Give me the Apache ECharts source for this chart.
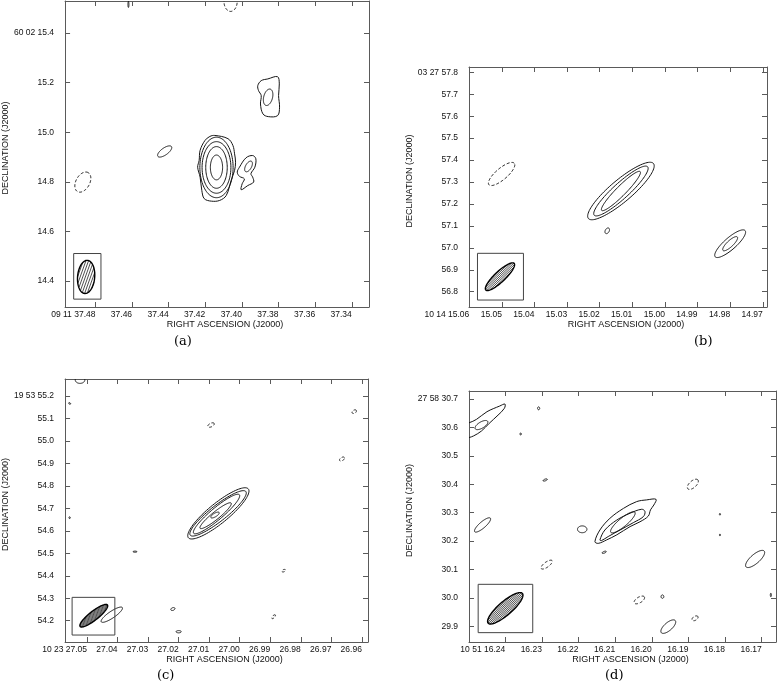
<!DOCTYPE html>
<html><head><meta charset="utf-8">
<script src="https://cdn.jsdelivr.net/npm/echarts@6/dist/echarts.min.js"></script>
<style>html,body{margin:0;padding:0;background:#fff}#c{width:777px;height:691px}</style>
</head><body><div id="c"></div>
<script>
// ================= DATA =================
// Panel (a)  RA 09h11m, Dec +60 02'
const raTicksA = [37.48, 37.46, 37.44, 37.42, 37.40, 37.38, 37.36, 37.34];
const raLabelsA = ['09 11 37.48', '37.46', '37.44', '37.42', '37.40', '37.38', '37.36', '37.34'];
const decTicksA = [14.4, 14.6, 14.8, 15.0, 15.2, 15.4];
const decLabelsA = ['14.4', '14.6', '14.8', '15.0', '15.2', '60 02 15.4'];
const raRangeA = [37.3306, 37.4966];
const decRangeA = [14.2952, 15.529];
const decDegA = 60.04;
// ellipses: [RA s, Dec arcsec, semi-major mas, semi-minor mas, PA deg, dashed]
const ellipsesA = [
  [37.4139, 14.8579, 50, 25, 0, 0],
  [37.4139, 14.8579, 84, 44, 0, 0],
  [37.4139, 14.8579, 104, 59, 0, 0],
  [37.4139, 14.8579, 122, 68, 0, 0],
  [37.3964, 14.8619, 24, 12, -30, 0],
  [37.3857, 15.1408, 34, 18, -15, 0],
  [37.4422, 14.9223, 34, 14, -55, 0],
  [37.4869, 14.7988, 44, 28, -30, 1],
  [37.4062, 15.527, 40, 27, 0, 1],
  [37.4620, 15.515, 12, 2, 0, 0]
];
// polygon contours: offsets [East mas, North mas] from a centre
const mainOuterA = [[7,129],[-47,116],[-67,89],[-74,55],[-78,21],[-74,-12],[-60,-52],[-40,-113],[-13,-133],[20,-136],[50,-126],[60,-93],[67,-39],[77,1],[71,28],[67,69],[47,109],[27,125]];
const hookA = [[-94,1],[-121,39],[-148,48],[-161,35],[-157,1],[-141,-25],[-148,-39],[-152,-59],[-128,-73],[-101,-90],[-105,-66],[-114,-46],[-94,-36],[-85,-19]];
const knotOuterA = [[46,47],[32,67],[5,74],[-35,83],[-42,54],[-39,7],[-43,-40],[-35,-74],[3,-78],[25,-67],[35,-27],[32,7],[43,27]];
const polyCentresA = [[37.4139, 14.8579, 0], [37.4139, 14.8579, 0], [37.3852, 15.1408, 0]];
const polyShapesA = [mainOuterA, hookA, knotOuterA];
// beam: [RA, Dec, a, b, PA, hatch spacing mas, hatch PA]
const beamA = [[37.4851, 14.4165, 67, 35, -5, 10, -20]];
const beamBoxA = [[37.4919, 14.3269, 37.4770, 14.5108]];

// Panel (b)  RA 10h14m, Dec +03 27'
const raTicksB = [15.06, 15.05, 15.04, 15.03, 15.02, 15.01, 15.00, 14.99, 14.98, 14.97];
const raLabelsB = ['10 14 15.06', '15.05', '15.04', '15.03', '15.02', '15.01', '15.00', '14.99', '14.98', '14.97'];
const decTicksB = [56.8, 56.9, 57.0, 57.1, 57.2, 57.3, 57.4, 57.5, 57.6, 57.7, 57.8];
const decLabelsB = ['56.8', '56.9', '57.0', '57.1', '57.2', '57.3', '57.4', '57.5', '57.6', '57.7', '03 27 57.8'];
const raRangeB = [14.9687, 15.0601];
const decRangeB = [56.7303, 57.8242];
const decDegB = 3.466;
const ellipsesB = [
  [15.0135, 57.259, 125, 22, -45, 0],
  [15.0135, 57.259, 165, 36, -48, 0],
  [15.0135, 57.259, 195, 50, -50, 0],
  [15.0177, 57.0777, 14, 9, -30, 0],
  [14.9800, 57.0188, 91, 27, -49, 0],
  [14.9800, 57.0188, 45, 14, -47, 0],
  [15.0501, 57.3365, 76, 26, -50, 1]
];
const beamB = [[15.0506, 56.8684, 89, 24, -47, 7, -47]];
const beamBoxB = [[15.0575, 56.762, 15.0434, 56.975]];

// Panel (c)  RA 10h23m, Dec +19 53'
const raTicksC = [27.05, 27.04, 27.03, 27.02, 27.01, 27.00, 26.99, 26.98, 26.97, 26.96];
const raLabelsC = ['10 23 27.05', '27.04', '27.03', '27.02', '27.01', '27.00', '26.99', '26.98', '26.97', '26.96'];
const decTicksC = [54.2, 54.3, 54.4, 54.5, 54.6, 54.7, 54.8, 54.9, 55.0, 55.1, 55.2];
const decLabelsC = ['54.2', '54.3', '54.4', '54.5', '54.6', '54.7', '54.8', '54.9', '55.0', '55.1', '19 53 55.2'];
const raRangeC = [26.958, 27.0572];
const decRangeC = [54.1052, 55.2757];
const decDegC = 19.899;
const ellipsesC = [
  [27.0070, 54.6777, 176, 45, -52, 0],
  [27.0071, 54.6777, 161, 36, -53, 0],
  [27.0076, 54.6748, 136, 27, -51, 0],
  [27.0079, 54.6674, 91, 17, -52, 0],
  [27.0081, 54.6703, 22, 8, -60, 0],
  [27.0523, 55.2712, 22, 15, 90, 0],
  [27.0557, 55.167, 5, 3, 60, 0],
  [27.0557, 54.6585, 4, 3, 0, 0],
  [27.0343, 54.5071, 9, 2.5, 90, 0],
  [27.0094, 55.0709, 16, 8, -65, 1],
  [26.9625, 55.1303, 11, 7, -60, 1],
  [26.9665, 54.9196, 13, 7, -60, 1],
  [26.9856, 54.4226, 9, 5, -70, 1],
  [26.9889, 54.2178, 11, 5, -45, 1],
  [27.0219, 54.2519, 10, 6, -70, 0],
  [27.0200, 54.151, 12, 5, 90, 0],
  [27.0419, 54.2267, 58, 15, -57, 0]
];
const beamC = [[27.0478, 54.2222, 79, 20, -53, 4, -53]];
const beamBoxC = [[27.0549, 54.1362, 27.0409, 54.3039]];

// Panel (d)  RA 10h51m, Dec +27 58'
const raTicksD = [16.24, 16.23, 16.22, 16.21, 16.20, 16.19, 16.18, 16.17];
const raLabelsD = ['10 51 16.24', '16.23', '16.22', '16.21', '16.20', '16.19', '16.18', '16.17'];
const decTicksD = [29.9, 30.0, 30.1, 30.2, 30.3, 30.4, 30.5, 30.6, 30.7];
const decLabelsD = ['29.9', '30.0', '30.1', '30.2', '30.3', '30.4', '30.5', '30.6', '27 58 30.7'];
const raRangeD = [16.1661, 16.2499];
const decRangeD = [29.8448, 30.7281];
const decDegD = 27.975;
const ellipsesD = [
  [16.2079, 30.266, 56, 15, -51, 0],
  [16.2465, 30.6082, 26, 11, -60, 0],
  [16.2462, 30.2567, 37, 11, -50, 0],
  [16.2190, 30.2414, 17, 12, 90, 0],
  [16.2287, 30.1171, 24, 9, -55, 1],
  [16.1888, 30.3997, 24, 12, -50, 1],
  [16.2034, 29.9928, 21, 10, -60, 1],
  [16.1882, 29.9282, 12, 7, -60, 1],
  [16.1955, 29.8989, 33, 14, -50, 0],
  [16.1718, 30.137, 43, 16, -50, 0],
  [16.2130, 30.1605, 8, 3, -70, 0],
  [16.2309, 30.6672, 5, 4, 0, 0],
  [16.2358, 30.5768, 3, 3, 0, 0],
  [16.2291, 30.415, 8, 3, -70, 0],
  [16.1814, 30.2942, 3, 2, 0, 0],
  [16.1814, 30.2215, 3, 2, 0, 0],
  [16.1971, 30.0045, 6, 5, 0, 0],
  [16.1675, 30.0103, 6, 2, 0, 0]
];
const mainOuterD = [[105,-74],[87,-33],[51,8],[2,43],[-46,67],[-82,73],[-116,75],[-108,55],[-96,38],[-88,16],[-58,-4],[-22,-21],[26,-50],[63,-68],[93,-80]];
const mainMidD = [[87,-68],[69,-33],[26,2],[-22,26],[-64,40],[-76,32],[-70,14],[-34,-7],[14,-33],[57,-56],[81,-70]];
const ulOuterD = [[72,-6],[57,-4],[30,8],[-8,35],[-54,55],[-73,62],[-71,47],[-48,23],[-16,-6],[12,-33],[40,-50],[57,-56],[72,-59]];
const polyCentresD = [[16.2076, 30.2719, 0], [16.2076, 30.2719, 0], [16.2456, 30.6202, 0]];
const polyShapesD = [mainOuterD, mainMidD, ulOuterD];
const beamD = [[16.2400, 29.9634, 81, 24, -50, 5, -50]];
const beamBoxD = [[16.2474, 29.8777, 16.2325, 30.0478]];

const panelLetters = ['(a)', '(b)', '(c)', '(d)'];

// ================= RENDERING =================
const FONT = '"Liberation Sans", Arial, Helvetica, sans-serif';
const FRAME = '#5a5a5a';
const INK = '#151515';
const D2R = Math.PI / 180;

function toData(ra0, dec0, E, N, cosd) {
  return [ra0 + E / 1000 / (15 * cosd), dec0 + N / 1000];
}
function ellipseRender(cosd) {
  return function (params, api) {
    const ra0 = api.value(0), dec0 = api.value(1), a = api.value(2), b = api.value(3);
    const pa = api.value(4) * D2R, dash = api.value(5);
    const pts = [];
    for (let k = 0; k < 96; k++) {
      const t = 2 * Math.PI * k / 96;
      const u = a * Math.cos(t), v = b * Math.sin(t);
      const E = u * Math.sin(pa) + v * Math.cos(pa);
      const N = u * Math.cos(pa) - v * Math.sin(pa);
      pts.push(api.coord(toData(ra0, dec0, E, N, cosd)));
    }
    return { type: 'polygon', shape: { points: pts },
      style: { fill: 'none', stroke: INK, lineWidth: 1, lineDash: dash ? [3, 2] : null } };
  };
}
function polyRender(cosd, shapes) {
  return function (params, api) {
    const ra0 = api.value(0), dec0 = api.value(1), dash = api.value(2);
    const pts = shapes[params.dataIndex].map(p => api.coord(toData(ra0, dec0, p[0], p[1], cosd)));
    return { type: 'polygon', shape: { points: pts, smooth: 0.35 },
      style: { fill: 'none', stroke: INK, lineWidth: 1, lineDash: dash ? [3, 2] : null } };
  };
}
function beamRender(cosd) {
  return function (params, api) {
    const ra0 = api.value(0), dec0 = api.value(1), a = api.value(2), b = api.value(3);
    const pa = api.value(4) * D2R, step = api.value(5), h = api.value(6) * D2R;
    const U = [Math.sin(pa), Math.cos(pa)], V = [Math.cos(pa), -Math.sin(pa)];
    const pts = [];
    for (let k = 0; k < 96; k++) {
      const t = 2 * Math.PI * k / 96;
      const u = a * Math.cos(t), v = b * Math.sin(t);
      pts.push(api.coord(toData(ra0, dec0, u * U[0] + v * V[0], u * U[1] + v * V[1], cosd)));
    }
    const children = [];
    const d = [Math.sin(h), Math.cos(h)], n = [Math.cos(h), -Math.sin(h)];
    const du = d[0] * U[0] + d[1] * U[1], dv = d[0] * V[0] + d[1] * V[1];
    const nu = n[0] * U[0] + n[1] * U[1], nv = n[0] * V[0] + n[1] * V[1];
    const A = du * du / (a * a) + dv * dv / (b * b);
    const R = Math.max(a, b);
    for (let c = -R; c <= R; c += step) {
      const B = 2 * c * (nu * du / (a * a) + nv * dv / (b * b));
      const C = c * c * (nu * nu / (a * a) + nv * nv / (b * b)) - 1;
      const disc = B * B - 4 * A * C;
      if (disc <= 0) continue;
      const t1 = (-B - Math.sqrt(disc)) / (2 * A), t2 = (-B + Math.sqrt(disc)) / (2 * A);
      const p1 = [c * n[0] + t1 * d[0], c * n[1] + t1 * d[1]];
      const p2 = [c * n[0] + t2 * d[0], c * n[1] + t2 * d[1]];
      const q1 = api.coord(toData(ra0, dec0, p1[0], p1[1], cosd));
      const q2 = api.coord(toData(ra0, dec0, p2[0], p2[1], cosd));
      children.push({ type: 'line', shape: { x1: q1[0], y1: q1[1], x2: q2[0], y2: q2[1] },
        style: { stroke: '#222', lineWidth: 0.8 } });
    }
    children.push({ type: 'polygon', shape: { points: pts },
      style: { fill: 'none', stroke: '#000', lineWidth: 1.4 } });
    return { type: 'group', children: children };
  };
}
function boxRender(params, api) {
  const p1 = api.coord([api.value(0), api.value(1)]);
  const p2 = api.coord([api.value(2), api.value(3)]);
  return { type: 'rect', shape: { x: Math.min(p1[0], p2[0]), y: Math.min(p1[1], p2[1]),
      width: Math.abs(p2[0] - p1[0]), height: Math.abs(p2[1] - p1[1]) },
    style: { fill: 'none', stroke: '#444', lineWidth: 1 } };
}

const panels = [
  { grid: { left: 62, top: 1, width: 307, height: 306 }, raT: raTicksA, raL: raLabelsA, decT: decTicksA, decL: decLabelsA,
    raR: raRangeA, decR: decRangeA, decDeg: decDegA, ell: ellipsesA, polyC: polyCentresA, polyS: polyShapesA, beam: beamA, box: beamBoxA },
  { grid: { left: 469, top: 67, width: 298, height: 240 }, raT: raTicksB, raL: raLabelsB, decT: decTicksB, decL: decLabelsB,
    raR: raRangeB, decR: decRangeB, decDeg: decDegB, ell: ellipsesB, polyC: [], polyS: [], beam: beamB, box: beamBoxB },
  { grid: { left: 62, top: 379, width: 306, height: 263 }, raT: raTicksC, raL: raLabelsC, decT: decTicksC, decL: decLabelsC,
    raR: raRangeC, decR: decRangeC, decDeg: decDegC, ell: ellipsesC, polyC: [], polyS: [], beam: beamC, box: beamBoxC },
  { grid: { left: 469, top: 391, width: 307, height: 251 }, raT: raTicksD, raL: raLabelsD, decT: decTicksD, decL: decLabelsD,
    raR: raRangeD, decR: decRangeD, decDeg: decDegD, ell: ellipsesD, polyC: polyCentresD, polyS: polyShapesD, beam: beamD, box: beamBoxD }
];
const letterPos = [[183, 343], [703, 343], [166, 677], [614, 677]];

function lookup(ticks, labels) {
  return function (v) {
    for (let i = 0; i < ticks.length; i++) if (Math.abs(ticks[i] - v) < 1e-6) return labels[i];
    return '';
  };
}

const grids = [], xAxes = [], yAxes = [], series = [], graphics = [];
panels.forEach((p, g) => {
  grids.push(Object.assign({ containLabel: false }, p.grid));
  const cosd = Math.cos(p.decDeg * D2R);
  const tickStyle = { inside: true, length: 5, lineStyle: { color: FRAME, width: 1 } };
  const lineStyle = { show: true, onZero: false, lineStyle: { color: FRAME, width: 1 } };
  xAxes.push({
    gridIndex: g, type: 'value', inverse: true, min: p.raR[0], max: p.raR[1], position: 'bottom',
    axisLine: lineStyle, splitLine: { show: false },
    axisTick: Object.assign({ customValues: p.raT }, tickStyle),
    axisLabel: { customValues: p.raT, formatter: lookup(p.raT, p.raL), fontFamily: FONT, fontSize: 8.5,
      color: '#111', margin: 3, align: 'right' },
    name: 'RIGHT ASCENSION (J2000)', nameLocation: 'middle', nameGap: 13,
    nameTextStyle: { fontFamily: FONT, fontSize: 9, color: '#111', padding: [0, 0, 0, 16] }
  });
  xAxes.push({
    gridIndex: g, type: 'value', inverse: true, min: p.raR[0], max: p.raR[1], position: 'top',
    axisLine: lineStyle, splitLine: { show: false },
    axisTick: Object.assign({ customValues: p.raT }, tickStyle), axisLabel: { show: false }
  });
  yAxes.push({
    gridIndex: g, type: 'value', min: p.decR[0], max: p.decR[1], position: 'left',
    axisLine: lineStyle, splitLine: { show: false },
    axisTick: Object.assign({ customValues: p.decT }, tickStyle),
    axisLabel: { customValues: p.decT, formatter: lookup(p.decT, p.decL), fontFamily: FONT, fontSize: 8.5,
      color: '#111', margin: 11 },
    name: 'DECLINATION (J2000)', nameLocation: 'middle', nameGap: 51,
    nameTextStyle: { fontFamily: FONT, fontSize: 9, color: '#111', padding: [0, 0, 0, 12] }
  });
  yAxes.push({
    gridIndex: g, type: 'value', min: p.decR[0], max: p.decR[1], position: 'right',
    axisLine: lineStyle, splitLine: { show: false },
    axisTick: Object.assign({ customValues: p.decT }, tickStyle), axisLabel: { show: false }
  });
  const xi = 2 * g, yi = 2 * g;
  series.push({ type: 'custom', xAxisIndex: xi, yAxisIndex: yi, clip: true, silent: true,
    renderItem: ellipseRender(cosd), encode: { x: 0, y: 1 }, data: p.ell });
  if (p.polyC.length) series.push({ type: 'custom', xAxisIndex: xi, yAxisIndex: yi, clip: true, silent: true,
    renderItem: polyRender(cosd, p.polyS), encode: { x: 0, y: 1 }, data: p.polyC });
  series.push({ type: 'custom', xAxisIndex: xi, yAxisIndex: yi, clip: true, silent: true,
    renderItem: boxRender, encode: { x: [0, 2], y: [1, 3] }, data: p.box });
  series.push({ type: 'custom', xAxisIndex: xi, yAxisIndex: yi, clip: true, silent: true,
    renderItem: beamRender(cosd), encode: { x: 0, y: 1 }, data: p.beam });
  graphics.push({ type: 'text', left: letterPos[g][0] - 9, top: letterPos[g][1] - 8,
    style: { text: panelLetters[g], font: '13px "DejaVu Serif", "Liberation Serif", serif', fill: '#000' } });
});

const chart = echarts.init(document.getElementById('c'), null, { renderer: 'canvas' });
chart.setOption({
  animation: false,
  backgroundColor: '#fff',
  grid: grids, xAxis: xAxes, yAxis: yAxes, series: series, graphic: graphics
});
</script>
</body></html>
